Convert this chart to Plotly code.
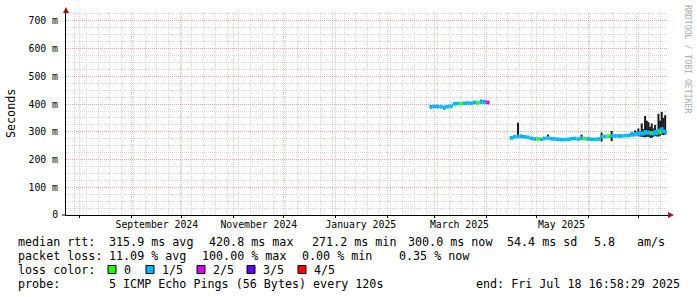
import plotly.graph_objects as go
import pandas as pd

# ---------------- data ----------------
dates = [
    "2025-02-27", "2025-03-01", "2025-03-03", "2025-03-05", "2025-03-07", "2025-03-09",
    "2025-03-11", "2025-03-13", "2025-03-15", "2025-03-17", "2025-03-19", "2025-03-21",
    "2025-03-23", "2025-03-25", "2025-03-27", "2025-03-29", "2025-03-31", "2025-04-02",
    "2025-04-16", "2025-04-18", "2025-04-20", "2025-04-22", "2025-04-24", "2025-04-26",
    "2025-04-28", "2025-04-30", "2025-05-02", "2025-05-04", "2025-05-06", "2025-05-08",
    "2025-05-10", "2025-05-12", "2025-05-14", "2025-05-16", "2025-05-18", "2025-05-20",
    "2025-05-22", "2025-05-24", "2025-05-26", "2025-05-28", "2025-05-30", "2025-06-01",
    "2025-06-03", "2025-06-05", "2025-06-07", "2025-06-09", "2025-06-11", "2025-06-13",
    "2025-06-15", "2025-06-17", "2025-06-19", "2025-06-21", "2025-06-23", "2025-06-25",
    "2025-06-27", "2025-06-28", "2025-06-29", "2025-06-30", "2025-07-01", "2025-07-02",
    "2025-07-03", "2025-07-04", "2025-07-05", "2025-07-06", "2025-07-07", "2025-07-08",
    "2025-07-09", "2025-07-10", "2025-07-11", "2025-07-12", "2025-07-13", "2025-07-14",
    "2025-07-15", "2025-07-16", "2025-07-17",
]
median_ms = [
    390, 391, 391, 390, 388, 391, 392, 401, 402, 402, 403, 404, 403, 406, 404, 407, 406, 406,
    278, 282, 283, 283, 282, 280, 276, 274, 275, 273, 276, 278, 275, 274, 273, 272, 272, 273,
    275, 276, 274, 277, 275, 274, 273, 273, 274, 282, 283, 284, 286, 285, 285, 285, 286, 287,
    289, 290, 292, 291, 294, 292, 295, 293, 300, 296, 298, 294, 296, 293, 300, 295, 305, 298,
    310, 302, 300,
]
smoke_lo_ms = [
    384, 388, 389, 388, 380, 388, 390, 398, 400, 400, 401, 401, 400, 403, 401, 403, 403, 403,
    274, 278, 278, 279, 279, 277, 273, 271, 272, 270, 273, 274, 272, 271, 270, 269, 269, 270,
    272, 273, 271, 273, 272, 271, 270, 270, 271, 265, 279, 281, 266, 282, 282, 282, 283, 284,
    285, 286, 284, 285, 284, 283, 282, 281, 280, 282, 282, 279, 278, 282, 285, 283, 283, 286,
    290, 288, 290,
]
smoke_hi_ms = [
    396, 394, 394, 393, 394, 394, 395, 405, 405, 406, 406, 407, 406, 410, 408, 416, 415, 410,
    284, 286, 333, 290, 286, 284, 280, 278, 279, 277, 280, 290, 279, 278, 277, 276, 276, 277,
    279, 280, 278, 290, 279, 278, 277, 277, 278, 297, 287, 288, 303, 289, 289, 289, 290, 291,
    298, 296, 305, 300, 312, 300, 330, 310, 357, 340, 335, 318, 330, 312, 325, 305, 365, 340,
    372, 350, 360,
]
loss = [
    1, 1, 1, 1, 1, 1, 1, 1, 1, 0, 1, 1, 1, 1, 0, 1, 1, 2,
    1, 1, 1, 1, 1, 1, 1, 1, 0, 1, 1, 1, 1, 1, 1, 1, 1, 1,
    1, 1, 1, 1, 0, 1, 1, 1, 1, 1, 1, 0, 1, 1, 1, 1, 1, 1,
    1, 1, 1, 1, 1, 1, 1, 1, 1, 1, 1, 1, 0, 1, 1, 1, 1, 0,
    1, 1, 1,
]

loss_labels = ["0", "1/5", "2/5", "3/5", "4/5"]
loss_colors = ["#26ff00", "#00b8ff", "#d400ff", "#5e00ff", "#ff0000"]

y_tick_vals = [0.0, 0.1, 0.2, 0.3, 0.4, 0.5, 0.6, 0.7]
y_tick_text = ["0", "100 m", "200 m", "300 m", "400 m", "500 m", "600 m", "700 m"]

x_label_dates = ["2024-09-16", "2024-11-16", "2025-01-16", "2025-03-16", "2025-05-16"]
x_label_text = ["September 2024", "November 2024", "January 2025", "March 2025", "May 2025"]

x_start = "2024-07-23 16:58:29"
x_end = "2025-07-18 16:58:29"

rtt_items = ["median rtt:", "315.9 ms avg", "420.8 ms max", "271.2 ms min",
             "300.0 ms now", "54.4 ms sd", "5.8", "am/s"]
loss_items = ["packet loss:", "11.09 % avg", "100.00 % max", "0.00 % min", "0.35 % now"]
probe_items = ["probe:", "5 ICMP Echo Pings (56 Bytes) every 120s"]
end_text = "end: Fri Jul 18 16:58:29 2025"

# ---------------- figure ----------------
DAY_MS = 86400000
MONO = "DejaVu Sans Mono"

med_s = [m / 1000 for m in median_ms]
lo_s = [v / 1000 for v in smoke_lo_ms]
hi_s = [v / 1000 for v in smoke_hi_ms]
band = 0.013

fig = go.Figure()
fig.add_trace(go.Bar(
    x=dates, y=[h - l for h, l in zip(hi_s, lo_s)], base=lo_s,
    width=1.2 * DAY_MS, marker=dict(color="#1c1c1c", line=dict(width=0)),
    hoverinfo="skip",
))
fig.add_trace(go.Bar(
    x=dates, y=[band] * len(dates), base=[m - band / 2 for m in med_s],
    width=2 * DAY_MS, marker=dict(color=[loss_colors[l] for l in loss], line=dict(width=0)),
    hoverinfo="skip",
))
# invisible carrier so the label axis is drawn
fig.add_trace(go.Scatter(x=x_label_dates, y=[None] * len(x_label_dates), xaxis="x2",
                         mode="markers", showlegend=False, hoverinfo="skip"))

month_starts = pd.date_range("2024-08-01", "2025-07-01", freq="MS")

MAJ = "rgba(235,60,60,0.30)"
MIN = "rgba(150,150,150,0.38)"

fig.update_layout(
    width=697, height=297,
    margin=dict(l=66, r=29, t=12, b=82),
    paper_bgcolor="white", plot_bgcolor="white",
    showlegend=False, barmode="overlay",
    font=dict(family=MONO, size=10, color="#000"),
    xaxis=dict(
        type="date", range=[x_start, x_end],
        tickmode="array", tickvals=list(month_starts), showticklabels=False,
        showgrid=True, gridcolor=MAJ, griddash="1px,1px", gridwidth=1,
        minor=dict(tick0="2024-07-29", dtick=7 * DAY_MS, showgrid=True,
                   gridcolor=MIN, griddash="1px,1px", gridwidth=1),
        showline=True, linecolor="#000", linewidth=1, zeroline=False,
        ticks="outside", ticklen=2, tickcolor="#000",
    ),
    xaxis2=dict(
        type="date", range=[x_start, x_end], overlaying="x", anchor="y", side="bottom",
        tickmode="array", tickvals=x_label_dates, ticktext=x_label_text,
        showgrid=False, showline=False, zeroline=False, ticks="", ticklabelstandoff=2,
        tickfont=dict(family=MONO, size=9.8, color="#000"),
    ),
    yaxis=dict(
        range=[0, 0.732], tickmode="array", tickvals=y_tick_vals, ticktext=y_tick_text,
        showgrid=True, gridcolor=MAJ, griddash="1px,1px", gridwidth=1,
        minor=dict(dtick=0.025, tick0=0, showgrid=True, gridcolor=MIN,
                   griddash="1px,1px", gridwidth=1),
        showline=True, linecolor="#000", linewidth=1, zeroline=False,
        ticks="", ticklabelstandoff=5,
        tickfont=dict(family=MONO, size=9.8, color="#000"),
    ),
)

PW = 602.0
PH = 203.0


def px_x(x):
    return (x - 66) / PW


def px_y(y):
    return (215 - y) / PH


shapes = [
    dict(type="path", xref="paper", yref="paper", xsizemode="pixel", ysizemode="pixel",
         xanchor=0, yanchor=1, path="M -3,-1 L 3,-1 L 0,5 Z",
         fillcolor="#9a1a1a", line=dict(width=0)),
    dict(type="path", xref="paper", yref="paper", xsizemode="pixel", ysizemode="pixel",
         xanchor=1, yanchor=0, path="M 0,3 L 0,-3 L 6,0 Z",
         fillcolor="#9a1a1a", line=dict(width=0)),
    dict(type="line", xref="paper", yref="paper", xsizemode="pixel", xanchor=0,
         x0=-4, x1=0, y0=0, y1=0, line=dict(color="#000", width=1)),
]

annotations = [
    dict(text="Seconds", textangle=-90, xref="paper", yref="paper",
         x=px_x(11), y=px_y(114), xanchor="center", yanchor="middle",
         showarrow=False, font=dict(family=MONO, size=11.7, color="#000")),
    dict(text="RRDTOOL / TOBI OETIKER", textangle=90, xref="paper", yref="paper",
         x=px_x(688), y=px_y(59), xanchor="center", yanchor="middle",
         showarrow=False, font=dict(family=MONO, size=8.2, color="#aaaaaa")),
]


def txt(t, x, y, anchor="left"):
    annotations.append(dict(text=t, xref="paper", yref="paper", x=px_x(x), y=px_y(y),
                            xanchor=anchor, yanchor="middle", showarrow=False,
                            font=dict(family=MONO, size=11.7, color="#000")))


line_y = [241.5, 255.5, 269.5, 283.5]
for t, x in zip(rtt_items, [16, 107, 207, 310, 406, 505, 592, 635]):
    txt(t, x, line_y[0])
for t, x in zip(loss_items, [16, 107, 200, 300, 397]):
    txt(t, x, line_y[1])
txt("loss color:", 16, line_y[2])
box_x = [108, 146, 197, 247, 298]
for bx, lab, col in zip(box_x, loss_labels, loss_colors):
    shapes.append(dict(type="rect", xref="paper", yref="paper",
                       x0=px_x(bx), x1=px_x(bx + 8), y0=px_y(line_y[2] - 4), y1=px_y(line_y[2] + 4),
                       fillcolor=col, line=dict(color="#000", width=1)))
    txt(lab, bx + 14, line_y[2])
for t, x in zip(probe_items, [16, 107]):
    txt(t, x, line_y[3])
txt(end_text, 682, line_y[3], anchor="right")

fig.update_layout(shapes=shapes, annotations=annotations)
fig.write_html("out.html")
